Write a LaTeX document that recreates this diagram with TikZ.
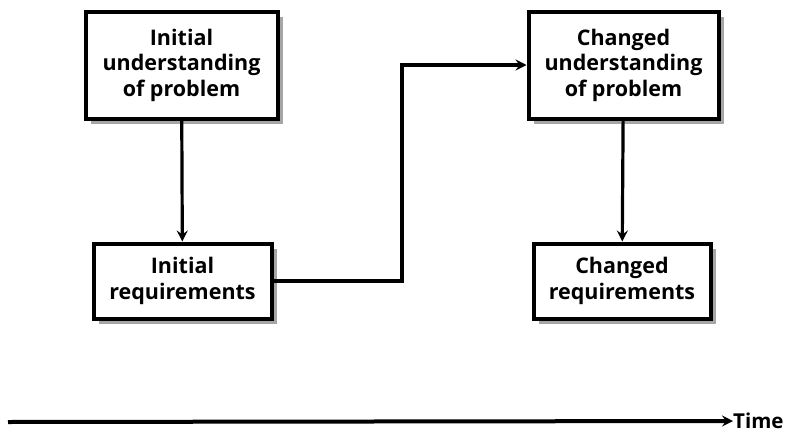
\documentclass[tikz,border=0pt]{standalone}
\usepackage{fontspec}
\setmainfont{Open Sans}
\usetikzlibrary{arrows.meta,shadows,positioning}
\begin{document}
\begin{tikzpicture}[x=1pt,y=-1pt,
  box/.style={draw=black, line width=4pt, fill=white, align=center,
    font=\bfseries\fontsize{21.5}{25.5}\selectfont, inner sep=0pt,
    drop shadow={shadow xshift=5pt, shadow yshift=-5pt, fill=black, opacity=0.35}},
  conn/.style={line width=3.2pt, -{Stealth[length=11pt,width=11pt,inset=4pt]}},
]
\useasboundingbox (0,0) rectangle (785,434);
\node[box, minimum width=192pt, minimum height=107pt] (iu) at (181.5,65) {Initial\\understanding\\of problem};
\node[box, minimum width=178pt, minimum height=75pt] (ir) at (182.5,281) {Initial\\requirements};
\node[box, minimum width=190pt, minimum height=107pt] (cu) at (623.5,65) {Changed\\understanding\\of problem};
\node[box, minimum width=177pt, minimum height=75pt] (cr) at (622,281) {Changed\\requirements};
\coordinate (t0) at (8,422);
\node[font=\bfseries\fontsize{20.5}{24}\selectfont, anchor=west, inner sep=0pt] (time) at (733,421) {Time};
\draw[conn] (iu) -- (ir);
\draw[conn] (cu) -- (cr);
\draw[conn] (ir.east) -- (402,281) |- (cu.west);
\draw[conn, line width=4pt] (t0) -- (time.west);
\end{tikzpicture}
\end{document}
